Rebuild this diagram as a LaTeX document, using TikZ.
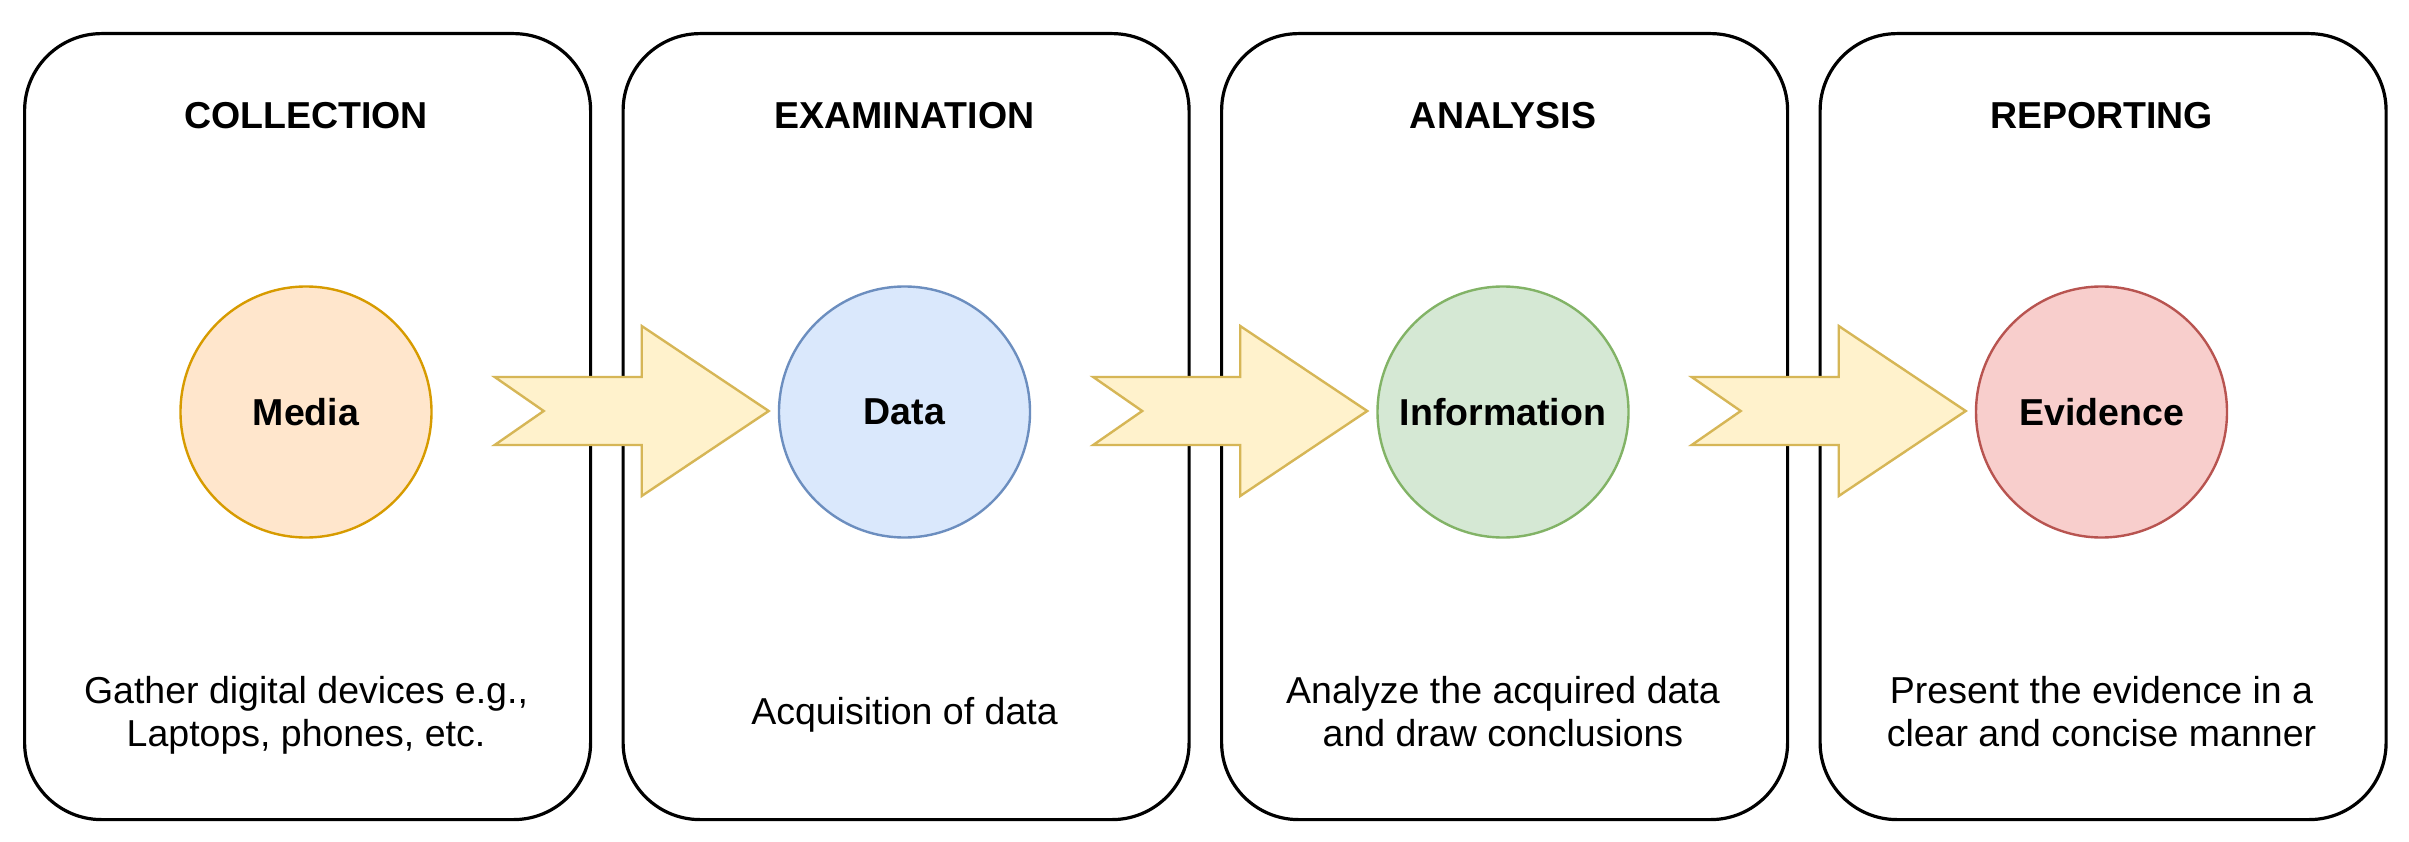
\documentclass[tikz,border=0pt]{standalone}
\usepackage{fontspec}
\setmainfont{Liberation Sans}
\definecolor{orFill}{HTML}{FFE6CC}\definecolor{orLine}{HTML}{D79B00}
\definecolor{blFill}{HTML}{DAE8FC}\definecolor{blLine}{HTML}{6C8EBF}
\definecolor{grFill}{HTML}{D5E8D4}\definecolor{grLine}{HTML}{82B366}
\definecolor{rdFill}{HTML}{F8CECC}\definecolor{rdLine}{HTML}{B85450}
\definecolor{ylFill}{HTML}{FFF2CC}\definecolor{ylLine}{HTML}{D6B656}
\begin{document}
\begin{tikzpicture}[x=1pt,y=-1pt,
  stagebox/.style={draw=black, line width=3.2pt, rounded corners=77pt, fill=white,
    minimum width=566pt, minimum height=786pt, inner sep=0pt, anchor=north west},
  titletext/.style={font=\fontsize{37.5}{45}\selectfont\bfseries, anchor=base, inner sep=0pt},
  desctext/.style={font=\fontsize{37.5}{43}\selectfont, align=center, anchor=north, inner sep=0pt,
    execute at begin node={\rule{0pt}{30pt}}},
  phase/.style={circle, line width=2.4pt, minimum size=251pt, inner sep=0pt,
    font=\fontsize{37.5}{45}\selectfont\bfseries},
  blockarrow/.style={draw=ylLine, fill=ylFill, line width=2.4pt, line join=miter}
]
\useasboundingbox (0,0) rectangle (2409,842);

% stage boxes
\node[stagebox] (b1) at (23,32) {};
\node[stagebox] (b2) at (621.5,32) {};
\node[stagebox] (b3) at (1220,32) {};
\node[stagebox] (b4) at (1818.5,32) {};

% titles
\node[titletext] (t1) at (306,129) {COLLECTION};
\node[titletext] (t2) at (904.5,129) {EXAMINATION};
\node[titletext] (t3) at (1503,129) {ANALYSIS};
\node[titletext] (t4) at (2101.5,129) {REPORTING};

% phase circles
\node[phase, draw=orLine, fill=orFill] (c1) at (306,412) {Media};
\node[phase, draw=blLine, fill=blFill] (c2) at (904.5,412) {Data};
\node[phase, draw=grLine, fill=grFill] (c3) at (1503,412) {Information};
\node[phase, draw=rdLine, fill=rdFill] (c4) at (2101.5,412) {Evidence};

% descriptions
\node[desctext] (d1) at (306,676) {Gather digital devices e.g.,\\Laptops, phones, etc.};
\node[desctext] (d2) at (904.5,694) {Acquisition of data};
\node[desctext] (d3) at (1503,676) {Analyze the acquired data\\and draw conclusions};
\node[desctext] (d4) at (2101.5,676) {Present the evidence in a\\clear and concise manner};

% block arrows between phases
\foreach \s/\t in {c1/c2, c2/c3, c3/c4}{
  \path (\s.east) ++(62,-1) coordinate (tail-\s);
  \draw[blockarrow] (tail-\s) ++(0,-34) -- ++(147,0) -- ++(0,-51) -- ++(127,85)
     -- ++(-127,85) -- ++(0,-51) -- ++(-147,0) -- ++(49,-34) -- cycle;
}
\end{tikzpicture}
\end{document}
